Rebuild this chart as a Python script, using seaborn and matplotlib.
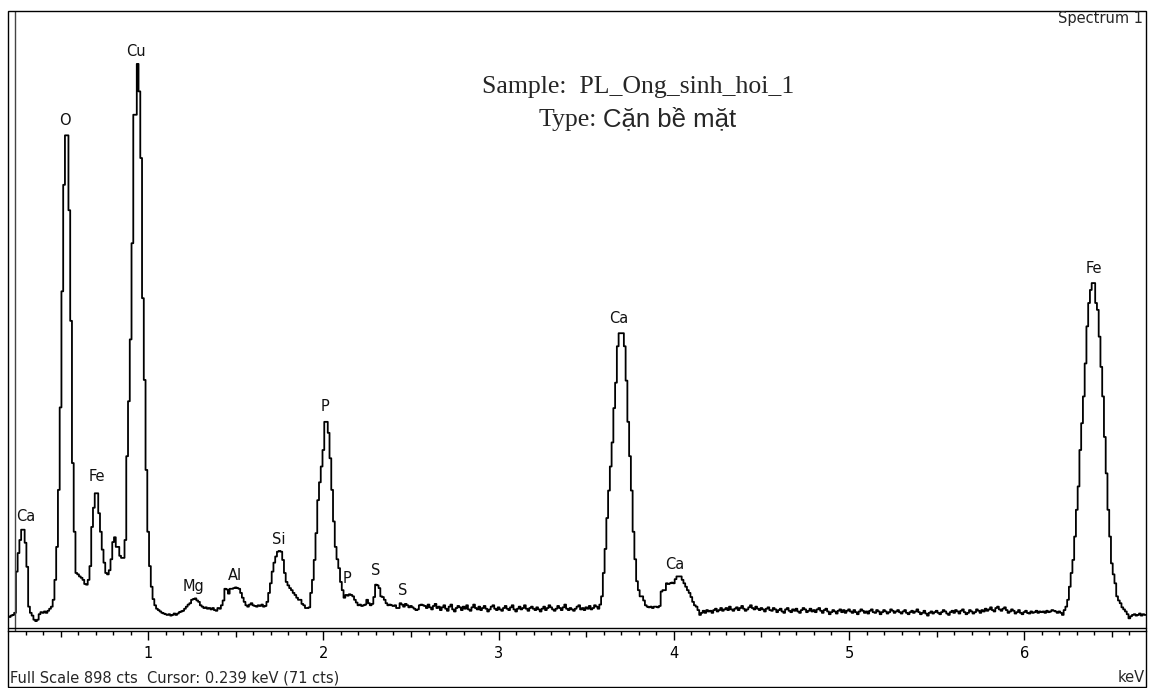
"""EDS spectrum (Spectrum 1) redrawn as a step line with peak labels."""

import matplotlib

matplotlib.use("Agg")

import matplotlib.pyplot as plt
import numpy as np
import pandas as pd
import seaborn as sns
from matplotlib.lines import Line2D
from matplotlib.patches import Rectangle
from matplotlib.ticker import FixedLocator, NullFormatter

# Channel axis of the spectrum
ENERGY_START = 0.20  # keV of first channel
CHANNEL_WIDTH = 0.01  # keV per channel

# Counts per channel, one row per 0.1 keV (0.20 ... 6.70 keV)
COUNTS = [
    17, 16, 18, 19, 22, 82, 109, 128, 143, 143,
    124, 89, 31, 22, 18, 12, 10, 12, 20, 23,
    22, 24, 22, 25, 28, 31, 41, 70, 118, 201,
    321, 490, 645, 717, 717, 608, 447, 240, 140, 80,
    78, 75, 73, 70, 64, 63, 70, 90, 147, 175,
    196, 196, 167, 140, 114, 95, 80, 78, 84, 100,
    125, 132, 118, 118, 105, 102, 102, 128, 250, 330,
    420, 560, 747, 747, 821, 781, 684, 480, 361, 230,
    140, 90, 60, 42, 33, 28, 26, 24, 22, 21,
    20, 19, 20, 18, 19, 21, 19, 21, 23, 24,
    25, 28, 31, 34, 36, 41, 42, 43, 40, 38,
    33, 31, 29, 30, 28, 29, 27, 29, 26, 25,
    29, 28, 33, 40, 57, 56, 50, 57, 57, 58,
    59, 58, 57, 51, 44, 38, 33, 31, 34, 36,
    33, 32, 31, 33, 32, 34, 31, 32, 38, 51,
    65, 82, 95, 104, 111, 112, 111, 99, 80, 67,
    62, 58, 55, 51, 48, 44, 41, 41, 35, 33,
    29, 29, 30, 51, 70, 99, 138, 186, 212, 235,
    259, 300, 300, 284, 247, 201, 155, 118, 100, 87,
    67, 55, 44, 48, 47, 49, 48, 46, 41, 37,
    33, 34, 32, 33, 34, 41, 36, 33, 35, 45,
    63, 62, 58, 46, 45, 41, 36, 33, 34, 33,
    32, 33, 29, 29, 36, 34, 31, 35, 33, 30,
    32, 30, 28, 26, 27, 33, 34, 33, 32, 29,
    34, 30, 27, 32, 35, 29, 31, 26, 30, 33,
    28, 25, 31, 34, 27, 24, 29, 32, 30, 26,
    31, 28, 33, 27, 25, 30, 34, 29, 27, 31,
    26, 29, 32, 28, 24, 27, 31, 33, 28, 26,
    30, 27, 25, 29, 32, 28, 26, 30, 33, 27,
    24, 28, 31, 27, 29, 33, 28, 25, 29, 31,
    28, 26, 30, 27, 24, 28, 31, 26, 29, 33,
    30, 27, 25, 28, 32, 29, 26, 30, 34, 28,
    26, 29, 27, 25, 28, 31, 33, 27, 29, 26,
    30, 28, 32, 27, 29, 33, 31, 28, 34, 46,
    80, 115, 160, 200, 235, 270, 320, 357, 410, 429,
    429, 429, 410, 360, 300, 250, 200, 140, 100, 68,
    55, 46, 46, 40, 33, 31, 30, 31, 29, 31,
    31, 30, 32, 53, 55, 55, 65, 64, 65, 66,
    65, 71, 75, 75, 75, 70, 65, 60, 55, 51,
    45, 38, 33, 31, 26, 19, 22, 25, 22, 26,
    24, 25, 22, 26, 28, 24, 26, 29, 25, 27,
    29, 26, 31, 27, 25, 28, 30, 26, 29, 32,
    28, 25, 27, 30, 33, 29, 27, 31, 28, 26,
    29, 27, 24, 28, 30, 26, 25, 29, 27, 23,
    26, 28, 24, 22, 27, 29, 25, 23, 27, 25,
    28, 24, 22, 26, 29, 27, 23, 25, 28, 24,
    26, 23, 27, 29, 25, 22, 26, 28, 24, 20,
    23, 26, 24, 21, 25, 27, 23, 26, 22, 25,
    27, 24, 22, 26, 23, 20, 24, 27, 25, 22,
    24, 21, 25, 27, 23, 22, 26, 24, 20, 23,
    26, 24, 21, 23, 27, 25, 22, 24, 26, 23,
    21, 24, 26, 22, 20, 23, 25, 22, 24, 27,
    23, 20, 22, 25, 21, 18, 22, 24, 21, 23,
    25, 22, 20, 23, 26, 24, 21, 19, 23, 25,
    22, 26, 24, 21, 25, 27, 23, 20, 22, 26,
    24, 21, 23, 27, 25, 22, 26, 24, 28, 25,
    27, 30, 26, 24, 29, 31, 27, 25, 28, 30,
    26, 22, 24, 27, 25, 21, 23, 26, 22, 20,
    23, 25, 22, 21, 24, 22, 23, 25, 22, 24,
    23, 24, 22, 25, 23, 24, 26, 25, 24, 22,
    24, 22, 19, 26, 31, 41, 60, 80, 99, 133,
    172, 206, 259, 298, 337, 385, 439, 473, 492, 502,
    502, 473, 463, 424, 380, 337, 278, 225, 172, 133,
    94, 78, 65, 46, 40, 36, 30, 27, 24, 20,
    14, 17, 19, 20, 18, 19, 21, 18, 20, 19,
    19,
]

# Peak identification labels (text centre in keV / counts)
PEAK_NAMES = ["Ca", "O", "Fe", "Cu", "Mg", "Al", "Si", "P", "P", "S", "S", "Ca", "Ca", "Fe"]
PEAK_KEV = [0.301, 0.525, 0.71, 0.93, 1.257, 1.495, 1.743, 2.009, 2.133, 2.298, 2.452, 3.683, 4.007, 6.398]
PEAK_CTS = [162, 739, 220, 839, 61, 77, 129, 322, 72, 83, 54, 451, 92, 523]

FULL_SCALE = 898
CURSOR_KEV = 0.239
CURSOR_CTS = 71
X_RANGE = (0.2, 6.695)
MAJOR_TICKS = [1, 2, 3, 4, 5, 6]
HALF_TICKS = [0.5, 1.5, 2.5, 3.5, 4.5, 5.5, 6.5]
MINOR_TICKS = [k / 10 for k in range(3, 67) if k % 5 != 0]

SAMPLE_TEXT = "Sample:  PL_Ong_sinh_hoi_1"
TYPE_PREFIX = "Type:"
TYPE_TEXT = "Cặn bề mặt"

W, H = 1151, 688


def fx(px):
    return px / W


def fy(py):
    return 1 - py / H


sns.set_style("white")
plt.rcParams["font.family"] = ["DejaVu Sans"]

energy = np.round(ENERGY_START + CHANNEL_WIDTH * np.arange(len(COUNTS)), 2)
df = pd.DataFrame({"keV": energy, "counts": COUNTS})

fig = plt.figure(figsize=(W / 100, H / 100), dpi=100)
fig.patch.set_facecolor("white")
ax = fig.add_axes([fx(8), fy(630.7), fx(1138), (630.7 - 11) / H])
ax.set_facecolor("white")

sns.lineplot(
    data=df, x="keV", y="counts", ax=ax, estimator=None,
    drawstyle="steps-mid", color="black", linewidth=1.3,
)

# cursor marker
ax.axvline(CURSOR_KEV, color="#444444", linewidth=1.0)

for name, kev, cts in zip(PEAK_NAMES, PEAK_KEV, PEAK_CTS):
    ax.text(kev, cts, name, ha="center", va="center", fontsize=10.5, color="#111111")

ax.set_xlim(*X_RANGE)
ax.set_ylim(-4, FULL_SCALE)
ax.set_yticks([])
ax.set_xlabel("")
ax.set_ylabel("")
for side in ["top", "left", "right"]:
    ax.spines[side].set_visible(False)
ax.spines["bottom"].set_linewidth(1.0)
ax.spines["bottom"].set_color("black")

ax.xaxis.set_major_locator(FixedLocator(MAJOR_TICKS))
ax.set_xticklabels([str(v) for v in MAJOR_TICKS])
ax.xaxis.set_minor_locator(FixedLocator(MINOR_TICKS))
ax.tick_params(axis="x", which="both", bottom=True, top=False)
ax.tick_params(axis="x", which="major", direction="out", length=6.8, width=1.0,
               pad=4, labelsize=10.5, colors="black")
ax.tick_params(axis="x", which="minor", direction="out", length=2.7, width=1.0, colors="black")

# half-keV ticks, slightly longer than the minor ones
half = ax.secondary_xaxis("bottom")
half.spines["bottom"].set_visible(False)
half.xaxis.set_major_locator(FixedLocator(HALF_TICKS))
half.xaxis.set_major_formatter(NullFormatter())
half.tick_params(axis="x", which="major", bottom=True, direction="out", length=4.0,
                 width=1.0, colors="black")
half.tick_params(axis="x", which="minor", bottom=False)

# double axis line and outer frame
fig.add_artist(Line2D([fx(8), fx(1146)], [fy(628.3), fy(628.3)], color="black", linewidth=1.0))
fig.add_artist(Rectangle((fx(8), fy(687)), fx(1138), 676 / H, fill=False,
                         edgecolor="black", linewidth=1.0, transform=fig.transFigure))

fig.text(fx(10), fy(678), f"Full Scale {FULL_SCALE} cts  Cursor: {CURSOR_KEV} keV ({CURSOR_CTS} cts)",
         ha="left", va="center", fontsize=10.5)
fig.text(fx(1145), fy(678), "keV", ha="right", va="center", fontsize=10.5)
fig.text(fx(1143), fy(19), "Spectrum 1", ha="right", va="center", fontsize=10.5)

fig.text(fx(638), fy(93), SAMPLE_TEXT, ha="center", va="baseline",
         family="Liberation Serif", fontsize=18.5)
fig.text(fx(597), fy(126), TYPE_PREFIX, ha="right", va="baseline",
         family="Liberation Serif", fontsize=18.5)
fig.text(fx(603), fy(126), TYPE_TEXT, ha="left", va="baseline",
         family="Liberation Sans", fontsize=18.5)

fig.savefig("out.png", dpi=100, facecolor="white")
